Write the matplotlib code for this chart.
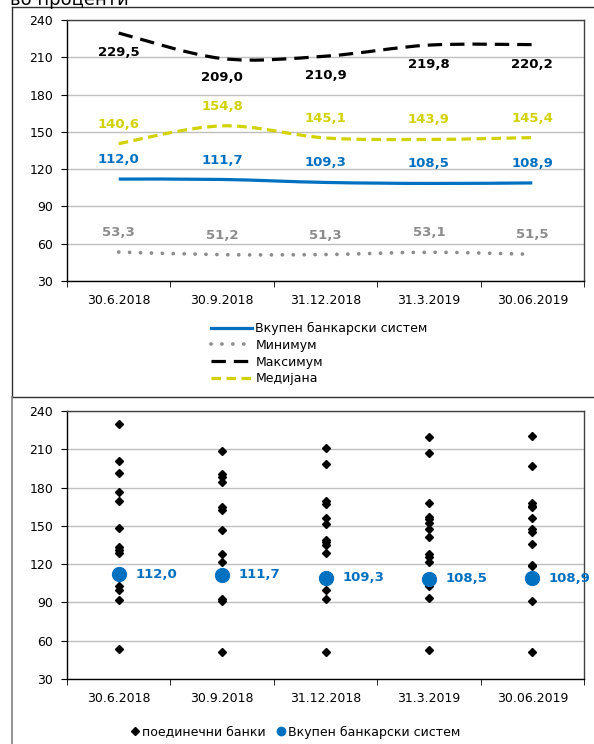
import matplotlib
matplotlib.use('Agg')
import matplotlib.pyplot as plt
from matplotlib.path import Path
from matplotlib.patches import PathPatch
from matplotlib.lines import Line2D
import numpy as np

plt.rcParams['font.family'] = ['DejaVu Sans']

# data
dates = ['30.6.2018', '30.9.2018', '31.12.2018', '31.3.2019', '30.06.2019']
total = [112.0, 111.7, 109.3, 108.5, 108.9]
minimum = [53.3, 51.2, 51.3, 53.1, 51.5]
maximum = [229.5, 209.0, 210.9, 219.8, 220.2]
median = [140.6, 154.8, 145.1, 143.9, 145.4]

banks_q1 = [229.5, 200.8, 191.7, 176.5, 169.7, 148.2, 133.5, 131.0, 128.8, 102.6, 99.5, 91.6, 53.3]
banks_q2 = [209.0, 190.5, 188.5, 184.0, 164.5, 162.5, 146.6, 128.3, 121.8, 92.8, 91.5, 51.2]
banks_q3 = [210.9, 198.7, 169.5, 167.0, 155.8, 151.8, 139.3, 137.4, 134.8, 128.8, 100.0, 92.4, 51.3]
banks_q4 = [219.8, 206.9, 167.6, 157.1, 155.0, 152.4, 147.9, 141.4, 128.3, 125.7, 121.8, 102.6, 93.2, 53.1]
banks_q5 = [220.2, 196.6, 168.1, 165.5, 164.4, 156.3, 147.6, 145.0, 136.1, 119.6, 118.3, 91.1, 51.5]
banks = [banks_q1, banks_q2, banks_q3, banks_q4, banks_q5]

BLUE = '#0070C0'
GRAY = '#8C8C8C'
YELLOW = '#D2D200'

DOTS = (0, (0.01, 2.9))


def fmt(v):
    return ('%.1f' % v).replace('.', ',')


def smooth(ax, ys, **kw):
    # excel-like smoothed line (bezier through the points)
    pts = np.column_stack([np.arange(len(ys)), ys]).astype(float)
    n = len(pts)
    verts = [pts[0]]
    codes = [Path.MOVETO]
    for i in range(n - 1):
        p0 = pts[max(i - 1, 0)]
        p1 = pts[i]
        p2 = pts[i + 1]
        p3 = pts[min(i + 2, n - 1)]
        verts += [p1 + (p2 - p0) / 6, p2 - (p3 - p1) / 6, p2]
        codes += [Path.CURVE4] * 3
    ax.add_patch(PathPatch(Path(verts, codes), fill=False, **kw))


def style_axes(ax):
    ax.set_xlim(-0.5, 4.5)
    ax.set_ylim(30, 240)
    ax.set_yticks(range(30, 241, 30))
    ax.set_xticks(range(5))
    ax.set_xticklabels(dates)
    ax.set_xticks(np.arange(-0.5, 5, 1), minor=True)
    ax.tick_params(axis='x', which='major', length=0, pad=9, labelsize=9)
    ax.tick_params(axis='x', which='minor', length=4, direction='out')
    ax.tick_params(axis='y', length=4, pad=6, labelsize=9)
    ax.grid(axis='y', color='#BEBEBE', lw=1)
    ax.set_axisbelow(True)
    for s in ax.spines.values():
        s.set_color('black')
        s.set_linewidth(1)
    ax.spines['top'].set_color('#404040')
    ax.spines['right'].set_color('#404040')


fig = plt.figure(figsize=(5.94, 7.44), dpi=100)

# frames around the panels
fig.add_artist(Line2D([12 / 594, 1], [1 - 7 / 744] * 2, color='#303030', lw=1))
fig.add_artist(Line2D([12 / 594] * 2, [1 - 7 / 744, 1 - 397 / 744], color='#303030', lw=1))
fig.add_artist(Line2D([12 / 594, 1], [1 - 397 / 744] * 2, color='#303030', lw=1))
fig.add_artist(Line2D([12 / 594] * 2, [1 - 397 / 744, 0], color='#808080', lw=1.2))
fig.text(10 / 594, 1 - 5 / 744, 'во проценти', fontsize=13, va='baseline', ha='left')

# top panel
ax1 = fig.add_axes([67 / 594, 1 - 281 / 744, 517 / 594, 261 / 744])
style_axes(ax1)
smooth(ax1, total, edgecolor=BLUE, lw=2.3)
smooth(ax1, minimum, edgecolor=GRAY, lw=2.7, linestyle=DOTS, capstyle='round')
smooth(ax1, maximum, edgecolor='black', lw=2.3, linestyle=(0, (4.5, 2.5)))
smooth(ax1, median, edgecolor=YELLOW, lw=2.3, linestyle=(0, (3, 1.7)))

lab = dict(ha='center', va='center', fontsize=9.5, fontweight='bold', textcoords='offset points')
for i in range(5):
    ax1.annotate(fmt(total[i]), (i, total[i]), xytext=(0, 14), color=BLUE, **lab)
    ax1.annotate(fmt(minimum[i]), (i, minimum[i]), xytext=(0, 14), color=GRAY, **lab)
    ax1.annotate(fmt(maximum[i]), (i, maximum[i]), xytext=(0, -14), color='black', **lab)
    ax1.annotate(fmt(median[i]), (i, median[i]), xytext=(0, 14), color=YELLOW, **lab)

handles = [Line2D([], [], color=BLUE, lw=2.3),
           Line2D([], [], color=GRAY, lw=2.7, linestyle=DOTS, dash_capstyle='round'),
           Line2D([], [], color='black', lw=2.3, linestyle=(0, (4.5, 2.5))),
           Line2D([], [], color=YELLOW, lw=2.3, linestyle=(0, (3, 1.7)))]
labels = ['Вкупен банкарски систем', 'Минимум', 'Максимум', 'Медијана']
fig.legend(handles, labels, loc='upper left', bbox_to_anchor=(211 / 594, 1 - 322 / 744),
           frameon=False, fontsize=9, handlelength=3.3, handletextpad=0.25,
           labelspacing=0.3, borderpad=0, borderaxespad=0)

# bottom panel
ax2 = fig.add_axes([67 / 594, 1 - 679 / 744, 517 / 594, 268 / 744])
style_axes(ax2)
for i, vals in enumerate(banks):
    ax2.plot([i] * len(vals), vals, linestyle='none', marker='D', ms=4.5,
             color='black', zorder=3)
ax2.plot(range(5), total, linestyle='none', marker='o', ms=10, color=BLUE, zorder=4)
for i in range(5):
    ax2.annotate(fmt(total[i]), (i, total[i]), xytext=(12, 0), ha='left', va='center',
                 textcoords='offset points', fontsize=9.5, fontweight='bold',
                 color=BLUE, zorder=5, annotation_clip=False)

h2 = [Line2D([], [], linestyle='none', marker='D', ms=4, color='black'),
      Line2D([], [], linestyle='none', marker='o', ms=6, color=BLUE)]
fig.legend(h2, ['поединечни банки', 'Вкупен банкарски систем'], loc='center',
           bbox_to_anchor=(296 / 594, 1 - 732 / 744), ncol=2, frameon=False, fontsize=9,
           handlelength=0.6, handletextpad=0.3, columnspacing=0.9, borderpad=0)

fig.savefig('out.png', dpi=100)
